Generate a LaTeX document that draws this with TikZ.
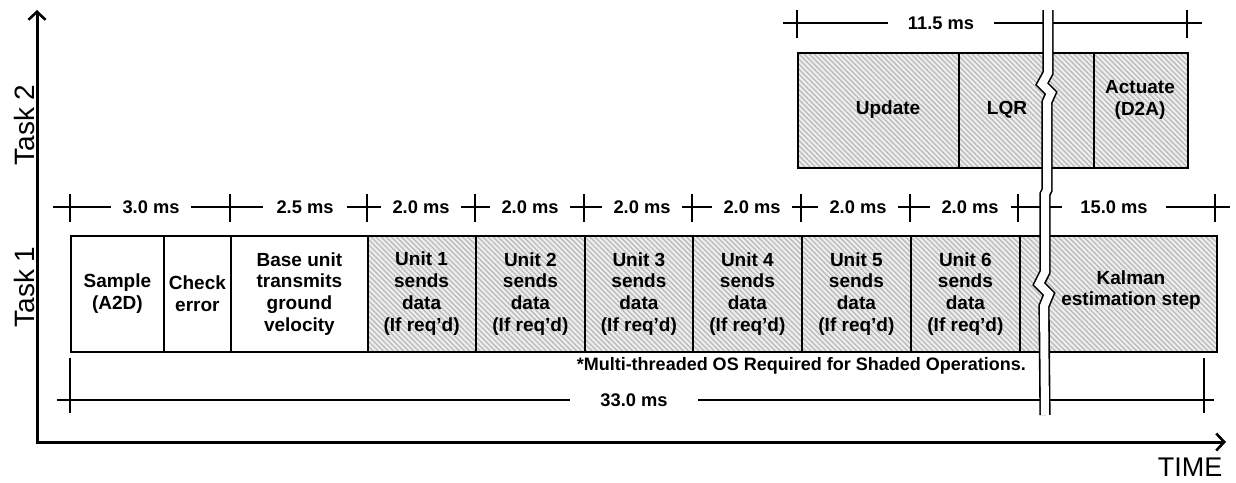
\documentclass[tikz,border=0pt]{standalone}
\usepackage{fontspec}
\setmainfont{Liberation Sans}
\usetikzlibrary{arrows.meta,patterns.meta}

\begin{document}
\begin{tikzpicture}[x=1pt,y=-1pt,
  boxfont/.style={font=\fontsize{19}{21.7}\selectfont\bfseries},
  box/.style={draw, line width=1.8pt, inner sep=0pt, minimum height=116pt,
    anchor=north west, align=center, boxfont},
  boxtwo/.style={box, minimum height=115pt},
  boxtext/.style={inner sep=0pt, align=center, boxfont},
  shaded/.style={preaction={fill=black!7},
    pattern={Lines[angle=-45,distance=3.6pt,line width=1.2pt]},
    pattern color=black!28},
  dim/.style={line width=1.4pt},
  dimlabel/.style={fill=white, inner xsep=12pt, inner ysep=2pt,
    font=\fontsize{18.3}{21}\selectfont\bfseries},
  axis/.style={line width=3pt,
    {Straight Barb[length=8pt,width=17pt,line width=2.6pt]}-{Straight Barb[length=8pt,width=17pt,line width=2.6pt]}},
  axislabel/.style={font=\fontsize{28}{32}\selectfont},
  brk/.style={line width=1.6pt, double=white, double distance=8pt}
]
\useasboundingbox (0,0) rectangle (1236,482);

% axes
\coordinate (ytop) at (37,10);
\coordinate (origin) at (37,442);
\coordinate (xend) at (1226,442);
\draw[axis] (ytop) -- (origin) -- (xend);
\node[axislabel, rotate=90] (tasktwo) at (24,125) {Task 2};
\node[axislabel, rotate=90] (taskone) at (24,287) {Task 1};
\node[axislabel, font=\fontsize{27}{32}\selectfont] (time) at (1190,467) {TIME};

% task 1 operations
\node[box, minimum width=93pt] (sample) at (70,235) {Sample\\(A2D)};
\node[box, minimum width=67pt] (check) at (163,235) {Check\\error};
\node[box, minimum width=137pt] (base) at (230,235) {Base unit\\transmits\\ground\\velocity};
\node[box, shaded, minimum width=108pt] (u1) at (367,235) {Unit 1\\sends\\data\\(If req’d)};
\node[box, shaded, minimum width=109pt] (u2) at (475,235) {Unit 2\\sends\\data\\(If req’d)};
\node[box, shaded, minimum width=108pt] (u3) at (584,235) {Unit 3\\sends\\data\\(If req’d)};
\node[box, shaded, minimum width=109pt] (u4) at (692,235) {Unit 4\\sends\\data\\(If req’d)};
\node[box, shaded, minimum width=109pt] (u5) at (801,235) {Unit 5\\sends\\data\\(If req’d)};
\node[box, shaded, minimum width=109pt] (u6) at (910,235) {Unit 6\\sends\\data\\(If req’d)};
\node[box, shaded, minimum width=197pt] (kalman) at (1019,235) {};
\node[boxtext] (kalmantext) at (1131,290) {Kalman\\estimation step};

% task 2 operations
\node[boxtwo, shaded, minimum width=161pt] (update) at (797,52) {};
\node[boxtwo, shaded, minimum width=135pt] (lqr) at (958,52) {};
\node[boxtwo, shaded, minimum width=94pt] (actuate) at (1093,52) {};
\node[boxtext] (updatetext) at (888,110) {Update};
\node[boxtext] (lqrtext) at (1007,110) {LQR};
\node[boxtext] (actuatetext) at (1140,100) {Actuate\\(D2A)};

% task 1 timing row
\draw[dim] (53,207) -- (1230,207);
\foreach \x in {70,230,367,475,584,692,801,910,1018,1215}
  \draw[dim] (\x,194) -- (\x,222);
\node[dimlabel] (d30) at (151,207) {3.0 ms};
\node[dimlabel, inner xsep=14pt] (d25) at (305,207) {2.5 ms};
\node[dimlabel] (d20a) at (421,207) {2.0 ms};
\node[dimlabel] (d20b) at (530,207) {2.0 ms};
\node[dimlabel] (d20c) at (642,207) {2.0 ms};
\node[dimlabel] (d20d) at (752,207) {2.0 ms};
\node[dimlabel] (d20e) at (858,207) {2.0 ms};
\node[dimlabel] (d20f) at (970,207) {2.0 ms};
\node[dimlabel, inner xsep=18pt] (d150) at (1114,207) {15.0 ms};

% task 2 timing row
\draw[dim] (783,23) -- (1202,23);
\foreach \x in {797,1187}
  \draw[dim] (\x,10) -- (\x,38);
\node[dimlabel, inner xsep=20pt] (d115) at (941,23) {11.5 ms};

% overall period
\draw[dim] (57,400) -- (1214,400);
\foreach \x in {70,1204}
  \draw[dim] (\x,358) -- (\x,413);
\node[dimlabel, inner xsep=30pt] (d330) at (634,400) {33.0 ms};

\node[anchor=east, inner sep=0pt, font=\fontsize{18}{21}\selectfont\bfseries] (note)
  at (1026,366) {*Multi-threaded OS Required for Shaded Operations.};

% time break
\draw[brk] (1048,10) -- (1048,73) -- (1042,84) -- (1051,93) -- (1047,102)
  -- (1047,190) -- (1045,194) -- (1045,272) -- (1039,284) -- (1049,294)
  -- (1044,306) -- (1045,415);
\end{tikzpicture}
\end{document}
